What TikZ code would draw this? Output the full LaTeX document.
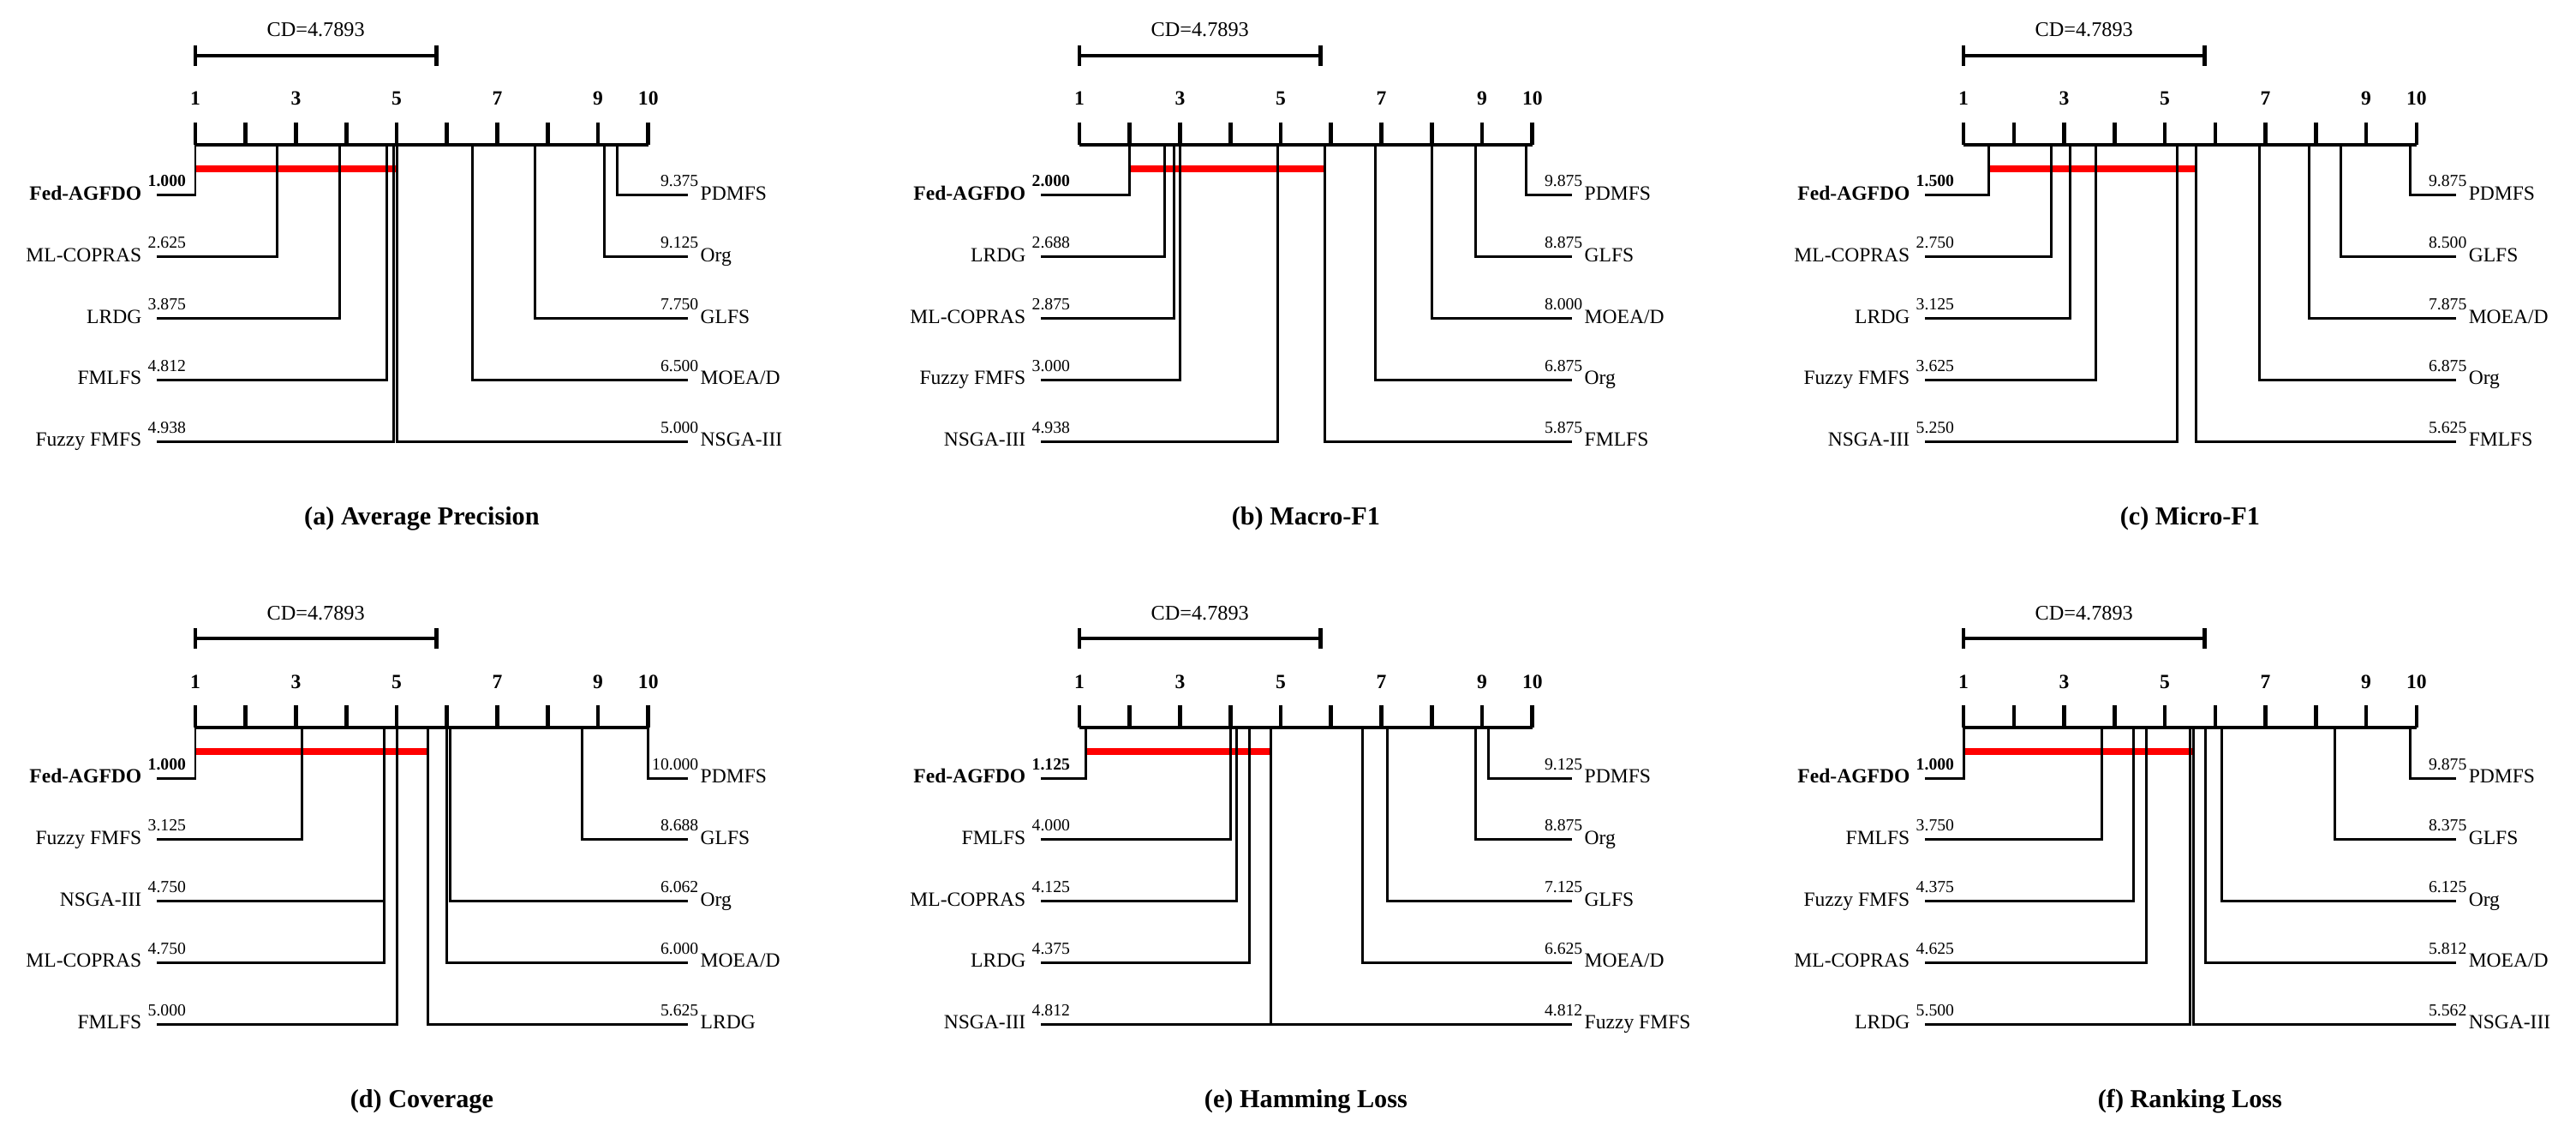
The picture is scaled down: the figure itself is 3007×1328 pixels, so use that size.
\documentclass[tikz,border=0pt]{standalone}
\usepackage{fontspec}
\setmainfont{Liberation Serif}
\newcommand{\namefont}{\fontsize{6.7}{8}\selectfont}
\newcommand{\valfont}{\fontsize{5.6}{6.5}\selectfont}
\newcommand{\titlefont}{\fontsize{8.6}{10}\selectfont\bfseries}

% one CD panel: prefix, x, y, title, clique from, clique to, left list, right list
\newcommand{\cdpanel}[8]{%
  \begin{scope}[shift={(#2,#3)}, name prefix=#1-]
    \node[font=\fontsize{6.9}{8}\selectfont, anchor=base] (cd) at (140.7,43) {CD=4.7893};
    \coordinate (cda) at (0,65);
    \coordinate (cdb) at (281.4,65);
    \draw[axisline] (cda) -- (cdb);
    \draw[axisline] (0,53) -- (0,77);
    \draw[axisline] (281.4,53) -- (281.4,77);
    \draw[axisline] (0,169) -- (528.75,169);
    \foreach \t in {1,...,10}
      \draw[tickline] ({(\t-1)*58.75},143) -- ({(\t-1)*58.75},169);
    \foreach \t in {1,3,5,7,9,10}
      \node[font=\namefont\bfseries, anchor=base] (t\t) at ({(\t-1)*58.75},123) {\t};
    \coordinate (ca) at ({(#5-1)*58.75},197);
    \coordinate (cb) at ({(#6-1)*58.75},197);
    \draw[cliqueline] (ca) -- (cb);
    \foreach \rk/\nm [count=\k] in {#7}{
      \pgfmathsetmacro{\rowy}{228+71.8*(\k-1)}
      \ifnum\k=1 \def\wt{\bfseries}\else\def\wt{}\fi
      \coordinate (Lr\k) at ({(\rk-1)*58.75},169);
      \coordinate (Le\k) at (-45,\rowy);
      \draw[linkline] (Lr\k) |- (Le\k);
      \node[font=\namefont\wt, anchor=base east] (Ln\k) at (-62,\rowy+5.5) {\nm};
      \node[font=\valfont\wt, anchor=base west] (Lv\k) at (-56,\rowy-10) {\rk};
    }
    \foreach \rk/\nm [count=\k] in {#8}{
      \pgfmathsetmacro{\rowy}{228+71.8*(\k-1)}
      \coordinate (Rr\k) at ({(\rk-1)*58.75},169);
      \coordinate (Re\k) at (575,\rowy);
      \draw[linkline] (Rr\k) |- (Re\k);
      \node[font=\valfont, anchor=base east] (Rv\k) at (588,\rowy-10) {\rk};
      \node[font=\namefont, anchor=base west] (Rn\k) at (589,\rowy+5.5) {\nm};
    }
    \node[font=\titlefont, anchor=base] (title) at (264.4,612) {#4};
  \end{scope}}

\begin{document}
\begin{tikzpicture}[x=0.01cm, y=-0.01cm]
    \tikzstyle{axisline}=[line width=1.2pt]
    \tikzstyle{tickline}=[line width=1.3pt]
    \tikzstyle{linkline}=[line width=0.85pt]
    \tikzstyle{cliqueline}=[red, line width=2.3pt]
    \tikzstyle{every node}=[inner sep=0pt]
    \useasboundingbox (0,0) rectangle (3007,1328);
    \cdpanel{a}{228}{0}{(a) Average Precision}{1.000}{5.000}
      {1.000/Fed-AGFDO, 2.625/ML-COPRAS, 3.875/LRDG, 4.812/FMLFS, 4.938/Fuzzy FMFS}
      {9.375/PDMFS, 9.125/Org, 7.750/GLFS, 6.500/{MOEA/D}, 5.000/NSGA-III}
    \cdpanel{b}{1260}{0}{(b) Macro-F1}{2.000}{5.875}
      {2.000/Fed-AGFDO, 2.688/LRDG, 2.875/ML-COPRAS, 3.000/Fuzzy FMFS, 4.938/NSGA-III}
      {9.875/PDMFS, 8.875/GLFS, 8.000/{MOEA/D}, 6.875/Org, 5.875/FMLFS}
    \cdpanel{c}{2292}{0}{(c) Micro-F1}{1.500}{5.625}
      {1.500/Fed-AGFDO, 2.750/ML-COPRAS, 3.125/LRDG, 3.625/Fuzzy FMFS, 5.250/NSGA-III}
      {9.875/PDMFS, 8.500/GLFS, 7.875/{MOEA/D}, 6.875/Org, 5.625/FMLFS}
    \cdpanel{d}{228}{680}{(d) Coverage}{1.000}{5.625}
      {1.000/Fed-AGFDO, 3.125/Fuzzy FMFS, 4.750/NSGA-III, 4.750/ML-COPRAS, 5.000/FMLFS}
      {10.000/PDMFS, 8.688/GLFS, 6.062/Org, 6.000/{MOEA/D}, 5.625/LRDG}
    \cdpanel{e}{1260}{680}{(e) Hamming Loss}{1.125}{4.812}
      {1.125/Fed-AGFDO, 4.000/FMLFS, 4.125/ML-COPRAS, 4.375/LRDG, 4.812/NSGA-III}
      {9.125/PDMFS, 8.875/Org, 7.125/GLFS, 6.625/{MOEA/D}, 4.812/Fuzzy FMFS}
    \cdpanel{f}{2292}{680}{(f) Ranking Loss}{1.000}{5.562}
      {1.000/Fed-AGFDO, 3.750/FMLFS, 4.375/Fuzzy FMFS, 4.625/ML-COPRAS, 5.500/LRDG}
      {9.875/PDMFS, 8.375/GLFS, 6.125/Org, 5.812/{MOEA/D}, 5.562/NSGA-III}
  \end{tikzpicture}
\end{document}
